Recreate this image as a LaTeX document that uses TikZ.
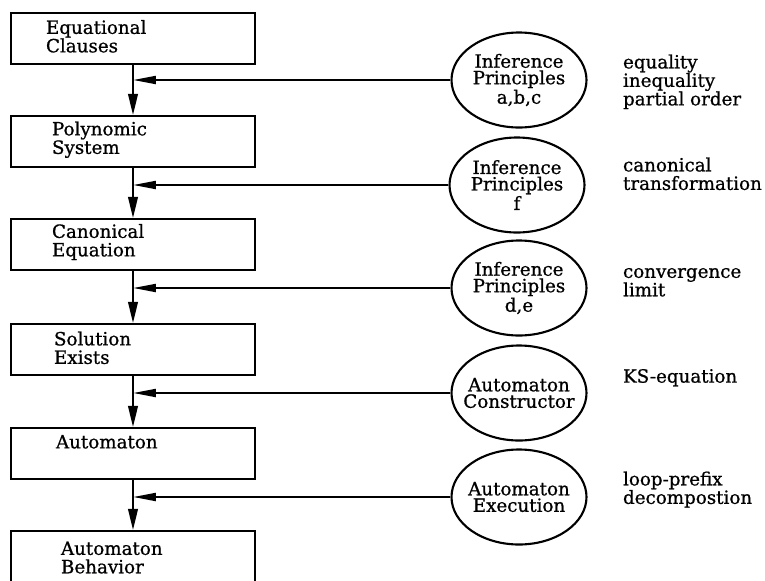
\documentclass[tikz,border=0pt]{standalone}
\usepackage{fontspec}
\setmainfont{DejaVu Serif}[FakeBold=0.8]
\usepackage{tikz}
\usetikzlibrary{positioning,arrows.meta,shapes.geometric}

\begin{document}
\begin{tikzpicture}[
  line width=1.2pt,
  stage/.style={draw, rectangle, minimum width=4.88cm, minimum height=1.02cm},
  stagetxt/.style={inner sep=0pt, align=left, font=\fontsize{10.4}{10.5}\selectfont},
  rule/.style={draw, ellipse, minimum width=2.7cm, minimum height=1.9cm, inner xsep=-0.4cm, inner ysep=0pt, align=center, font=\fontsize{10.4}{9.4}\selectfont},
  note/.style={anchor=north west, inner sep=0pt, align=left, font=\fontsize{10.4}{10.5}\selectfont},
  flow/.style={-{Triangle[length=12pt,width=5.5pt]}},
  feed/.style={-{Triangle[length=13pt,width=4.5pt]}}
]
\useasboundingbox (0,0) rectangle (15.3,-11.6);
\clip (0,0) rectangle (15.3,-11.6);

% Stages
\node[stage] (b1) at (2.66,-0.77) {};
\node[stage] (b2) at (2.66,-2.83) {};
\node[stage] (b3) at (2.66,-4.89) {};
\node[stage] (b4) at (2.66,-6.99) {};
\node[stage] (b5) at (2.66,-9.07) {};
\node[stage] (b6) at (2.66,-11.13) {};

\node[stagetxt, below right=0.14cm and 0.70cm of b1.north west] (t1) {Equational\\Clauses};
\node[stagetxt, below right=0.11cm and 0.82cm of b2.north west] (t2) {Polynomic\\System};
\node[stagetxt, below right=0.10cm and 0.82cm of b3.north west] (t3) {Canonical\\Equation};
\node[stagetxt, below right=0.15cm and 0.86cm of b4.north west] (t4) {Solution\\Exists};
\node[stagetxt, below right=0.14cm and 0.90cm of b5.north west] (t5) {Automaton};
\node[stagetxt, below right=0.21cm and 1.00cm of b6.north west] (t6) {Automaton\\Behavior};

% Rules
\node[rule] (e1) at (10.38,-1.60) {Inference\\Principles\\a,b,c};
\node[rule] (e2) at (10.34,-3.70) {Inference\\Principles\\f};
\node[rule] (e3) at (10.38,-5.76) {Inference\\Principles\\d,e};
\node[rule] (e4) at (10.38,-7.86) {Automaton\\Constructor};
\node[rule] (e5) at (10.38,-9.94) {Automaton\\Execution};

% Notes
\node[note] (n1) at (12.44,-1.07) {equality\\inequality\\partial order};
\node[note] (n2) at (12.44,-3.13) {canonical\\transformation};
\node[note] (n3) at (12.44,-5.34) {convergence\\limit};
\node[note] (n4) at (12.44,-7.36) {KS-equation};
\node[note] (n5) at (12.44,-9.41) {loop-prefix\\decompostion};

% Flow down
\draw[flow] (b1.south) -- (b2.north);
\draw[flow] (b2.south) -- (b3.north);
\draw[flow] (b3.south) -- (b4.north);
\draw[flow] (b4.south) -- (b5.north);
\draw[flow] (b5.south) -- (b6.north);

% Feeds from rules
\draw[feed] (e1.west) -- (e1.west -| b1.south);
\draw[feed] (e2.west) -- (e2.west -| b2.south);
\draw[feed] (e3.west) -- (e3.west -| b3.south);
\draw[feed] (e4.west) -- (e4.west -| b4.south);
\draw[feed] (e5.west) -- (e5.west -| b5.south);

\end{tikzpicture}
\end{document}
